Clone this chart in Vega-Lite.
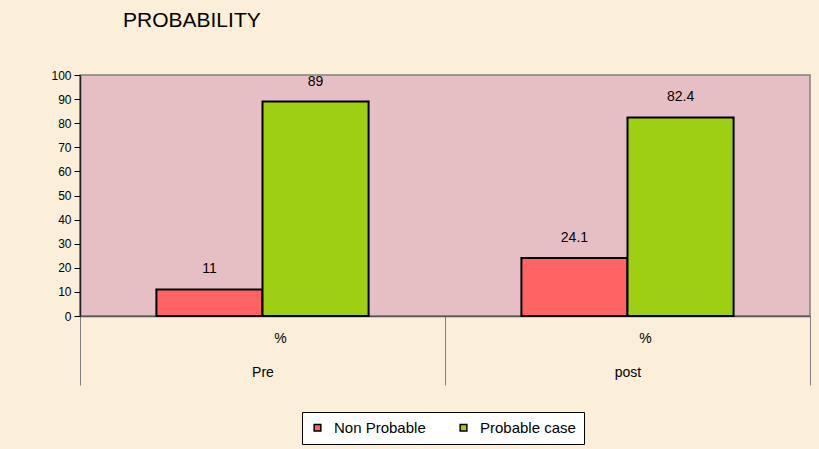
{
  "$schema": "https://vega.github.io/schema/vega-lite/v6.json",
  "width": 730,
  "height": 241,
  "autosize": {"type": "none"},
  "padding": {"left": 80, "top": 75, "right": 9, "bottom": 133},
  "background": "#FBEFD9",
  "title": {
    "text": "PROBABILITY",
    "anchor": "start",
    "frame": "group",
    "dx": 43,
    "offset": 38,
    "font": "Liberation Sans",
    "fontSize": 21,
    "fontWeight": "normal",
    "color": "#000000"
  },
  "data": {
    "values": [
      {"time": "Pre", "series": "Non Probable", "value": 11, "unit": "%"},
      {"time": "Pre", "series": "Probable case", "value": 89, "unit": "%"},
      {"time": "post", "series": "Non Probable", "value": 24.1, "unit": "%"},
      {"time": "post", "series": "Probable case", "value": 82.4, "unit": "%"}
    ]
  },
  "encoding": {
    "y": {
      "field": "value",
      "type": "quantitative",
      "scale": {"domain": [0, 100], "nice": false},
      "axis": {
        "title": null,
        "values": [0, 10, 20, 30, 40, 50, 60, 70, 80, 90, 100],
        "grid": false,
        "tickSize": 6,
        "tickColor": "#000000",
        "domainColor": "#222222",
        "domainWidth": 1.5,
        "labelPadding": 3,
        "labelFont": "Liberation Sans",
        "labelFontSize": 12,
        "labelColor": "#000000"
      }
    },
    "xOffset": {
      "field": "series",
      "type": "nominal",
      "sort": ["Non Probable", "Probable case"],
      "scale": {"paddingInner": 0, "paddingOuter": 0.72}
    }
  },
  "layer": [
    {
      "mark": {"type": "bar", "stroke": "#000000", "strokeWidth": 2},
      "encoding": {
        "x": {
          "field": "time",
          "type": "nominal",
          "sort": ["Pre", "post"],
          "scale": {"paddingInner": 0, "paddingOuter": 0},
          "axis": {
            "title": null,
            "orient": "bottom",
            "labelAngle": 0,
            "labelBaseline": "top",
            "labelPadding": -20,
            "labelFont": "Liberation Sans",
            "labelFontSize": 14,
            "labelColor": "#000000",
            "tickBand": "extent",
            "tickSize": 69,
            "tickColor": "#808080",
            "tickWidth": 1,
            "domainColor": "#555555",
            "domainWidth": 1.5
          }
        },
        "color": {
          "field": "series",
          "type": "nominal",
          "sort": ["Non Probable", "Probable case"],
          "scale": {"domain": ["Non Probable", "Probable case"], "range": ["#FF6464", "#9FCF12"]},
          "legend": {
            "title": null,
            "orient": "none",
            "direction": "horizontal",
            "legendX": 222,
            "legendY": 337,
            "fillColor": "#FFFFFF",
            "strokeColor": "#000000",
            "padding": 8,
            "symbolType": "square",
            "symbolSize": 45,
            "symbolStrokeColor": "#000000",
            "symbolStrokeWidth": 1.5,
            "symbolOpacity": 1,
            "labelOffset": 9,
            "columnPadding": 30,
            "labelFont": "Liberation Sans",
            "labelFontSize": 15,
            "labelColor": "#000000"
          }
        }
      }
    },
    {
      "mark": {
        "type": "text",
        "baseline": "middle",
        "dy": -20,
        "font": "Liberation Sans",
        "fontSize": 14,
        "color": "#000000"
      },
      "encoding": {
        "x": {
          "field": "time",
          "type": "nominal",
          "sort": ["Pre", "post"],
          "axis": {
            "title": null,
            "orient": "bottom",
            "labelAngle": 0,
            "labelExpr": "'%'",
            "labelOffset": 18,
            "labelBaseline": "top",
            "labelPadding": 15,
            "ticks": false,
            "tickSize": 0,
            "domain": false,
            "labelFont": "Liberation Sans",
            "labelFontSize": 14,
            "labelColor": "#000000"
          }
        },
        "text": {"field": "value", "type": "quantitative"}
      }
    }
  ],
  "resolve": {"axis": {"x": "independent"}},
  "config": {
    "view": {"fill": "#E6BFC4", "stroke": "#808080", "strokeWidth": 1.5}
  }
}
